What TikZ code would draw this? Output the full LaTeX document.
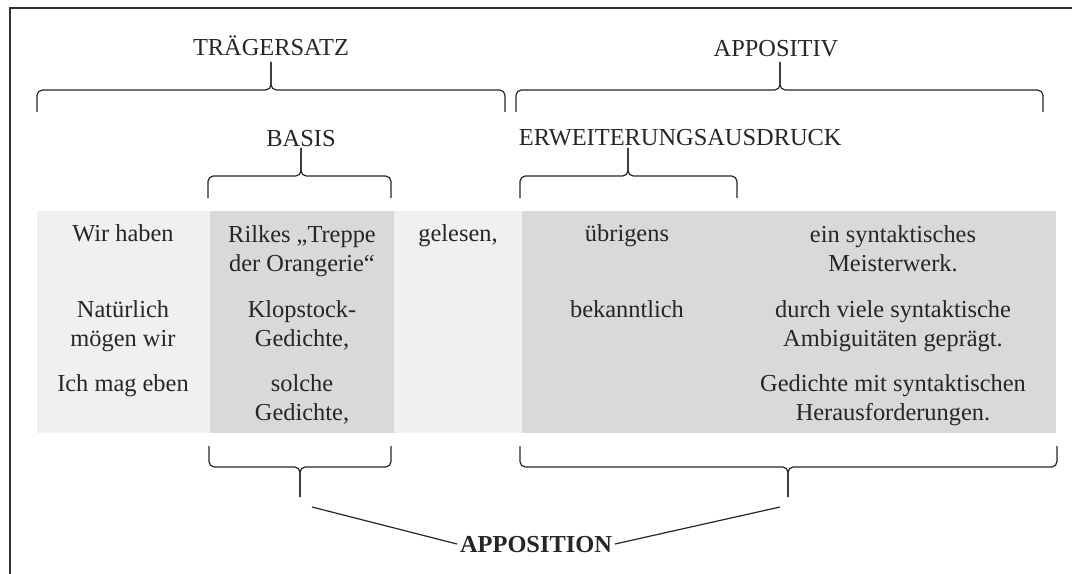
\documentclass[tikz,border=0pt]{standalone}
\usepackage{fontspec}
\setmainfont{Liberation Serif}

\definecolor{hell}{gray}{0.94}
\definecolor{dunkel}{gray}{0.85}
\tikzset{
  klammer/.style={line width=0.9pt, black!85, rounded corners=4pt},
  kopf/.style={anchor=base, inner sep=2pt, text=black!85, font=\fontsize{18.3}{22.1}\selectfont},
  zelle/.style={kopf, align=center}
}

\begin{document}
\begin{tikzpicture}[x=0.75pt, y=-0.75pt]
        \useasboundingbox (0,0) rectangle (1072,574);
        % Rahmen
        \draw[line width=1.5pt, black!80] (10,574) -- (10,8) -- (1072,8);

        % Spalten
        \fill[hell] (37,211) rectangle (1056,433);
        \fill[dunkel] (210,211) rectangle (394,433);
        \fill[dunkel] (522,211) rectangle (1056,433);

        % Klammern oben
        \foreach \l/\r/\m/\y in {37/505/271/90, 516/1043/780/90, 208/391/301/176, 520/737/628/176} {
            \draw[klammer] (\l,\y+22) |- (\m,\y) -- (\m,\y-28);
            \draw[klammer] (\r,\y+22) |- (\m,\y) -- (\m,\y-28);
        }
        % Klammern unten
        \foreach \l/\r/\m in {209/391/300, 520/1057/788} {
            \draw[klammer] (\l,446) |- (\m,467) -- (\m,497);
            \draw[klammer] (\r,446) |- (\m,467) -- (\m,497);
        }

        % Beschriftungen
        \node[kopf] (traeger) at (271,56) {TRÄGERSATZ};
        \node[kopf] (appositiv) at (776,57) {APPOSITIV};
        \node[kopf] (basis) at (301,147) {BASIS};
        \node[kopf, anchor=base west] (erweiterung) at (516,146) {ERWEITERUNGSAUSDRUCK};

        % Zeile 1 (Basislinie der letzten Zeile)
        \node[zelle] (wir) at (123,242) {Wir haben};
        \node[zelle] (rilke) at (302,271.5) {Rilkes „Treppe\\der Orangerie“};
        \node[zelle] (gelesen) at (458,242) {gelesen,};
        \node[zelle] (uebrigens) at (627,242) {übrigens};
        \node[zelle] (meisterwerk) at (893,271.5) {ein syntaktisches\\Meisterwerk.};
        % Zeile 2
        \node[zelle] (natuerlich) at (123,346.5) {Natürlich\\mögen wir};
        \node[zelle] (klopstock) at (302,346.5) {Klopstock-\\Gedichte,};
        \node[zelle] (bekanntlich) at (627,317) {bekanntlich};
        \node[zelle] (ambiguitaeten) at (893,346.5) {durch viele syntaktische\\Ambiguitäten geprägt.};
        % Zeile 3
        \node[zelle] (ichmag) at (123,391) {Ich mag eben};
        \node[zelle] (solche) at (302,420.5) {solche\\Gedichte,};
        \node[zelle] (herausforderungen) at (893,420.5) {Gedichte mit syntaktischen\\Herausforderungen.};

        % Apposition
        \node[kopf, font=\fontsize{18.3}{22.1}\selectfont\bfseries] (apposition) at (536,552) {APPOSITION};
        \coordinate (fussL) at (312,507);
        \coordinate (fussR) at (780,507);
        \draw[line width=0.9pt, black!85] (fussL) -- (apposition.west);
        \draw[line width=0.9pt, black!85] (fussR) -- (apposition.east);
    \end{tikzpicture}
\end{document}
